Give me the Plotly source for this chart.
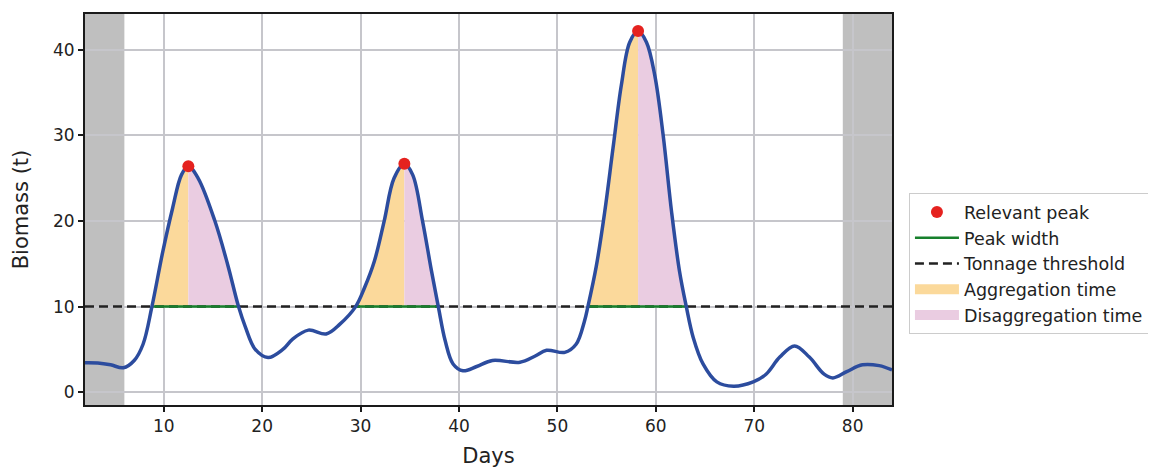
import plotly.graph_objects as go

# ---- data ----
days = [2.0, 3.3, 4.6, 5.9, 7.0, 7.9, 8.8, 9.9, 10.9, 11.8, 12.5, 13.5, 15.2, 16.5, 17.6,
        18.3, 19.3, 20.6, 22.1, 23.1, 24.7, 26.5, 27.9, 29.5, 30.4, 31.4, 32.4, 33.4, 34.45,
        35.3, 36.3, 37.2, 37.9, 38.6, 39.4, 40.4, 41.8, 43.4, 46.2, 47.7, 48.9,
        50.75, 51.9, 52.75, 53.1, 53.95, 54.8, 55.65, 56.5, 57.35, 58.2, 59.05, 59.9,
        60.75, 61.6, 62.4, 63.1, 63.8, 64.8, 66.2, 67.9, 69.9, 71.2, 72.6, 74.1, 75.6,
        77.1, 78.0, 79.4, 81.0, 82.7, 84.0]
biomass = [3.45, 3.42, 3.2, 2.85, 3.7, 5.6, 10.0, 16.4, 21.5, 25.4, 26.4, 25.0, 20.0, 14.9, 10.0,
           7.6, 5.0, 4.05, 5.0, 6.2, 7.25, 6.8, 7.95, 10.0, 12.2, 15.3, 20.0, 25.0, 26.7,
           25.4, 20.0, 14.2, 10.0, 6.0, 3.3, 2.5, 3.0, 3.7, 3.5, 4.2, 4.9,
           4.65, 5.6, 8.3, 10.0, 14.7, 21.0, 28.5, 35.9, 40.9, 42.2, 40.9, 37.0,
           30.0, 21.1, 14.2, 10.0, 6.4, 3.3, 1.2, 0.7, 1.2, 2.1, 4.1, 5.4, 4.1,
           2.1, 1.67, 2.4, 3.2, 3.1, 2.6]

peak_start = [8.8, 29.5, 53.1]     # threshold crossing before peak
peak_day = [12.5, 34.45, 58.2]
peak_value = [26.4, 26.7, 42.2]
peak_end = [17.6, 37.9, 63.1]      # threshold crossing after peak

threshold = 10
masked_periods = [(2, 6), (79, 84)]
x_ticks = [10, 20, 30, 40, 50, 60, 70, 80]
y_ticks = [0, 10, 20, 30, 40]

assert len(days) == len(biomass)

BLUE = "#2C4C9E"
ORANGE = "#FBD99B"
PINK = "#EACCE1"
GREEN = "#17802C"
RED = "#E5221F"

fig = go.Figure()


def segment(a, b):
    xs, ys = [], []
    for d, v in zip(days, biomass):
        if a - 1e-9 <= d <= b + 1e-9:
            xs.append(d)
            ys.append(v)
    return xs, ys


for i, (s, p, e) in enumerate(zip(peak_start, peak_day, peak_end)):
    for (a, b, col) in [(s, p, ORANGE), (p, e, PINK)]:
        xs, ys = segment(a, b)
        fig.add_trace(go.Scatter(x=[a, b], y=[threshold, threshold], mode="lines",
                                 line=dict(width=0), showlegend=False, hoverinfo="skip"))
        fig.add_trace(go.Scatter(x=xs, y=ys, mode="lines", line=dict(width=0, shape="spline"),
                                 fill="tonexty", fillcolor=col, showlegend=False))

# legend-only entries for the filled areas (wide swatches)
for col, name, rank in [(ORANGE, "Aggregation time", 4), (PINK, "Disaggregation time", 5)]:
    fig.add_trace(go.Scatter(x=[None], y=[None], mode="lines",
                             line=dict(width=14, color=col), name=name, legendrank=rank))

# threshold
fig.add_trace(go.Scatter(x=[days[0], days[-1]], y=[threshold, threshold], mode="lines",
                         line=dict(color="#222222", width=2.5, dash="9px,5px"),
                         name="Tonnage threshold", legendrank=3))

# peak widths
for i, (s, e) in enumerate(zip(peak_start, peak_end)):
    fig.add_trace(go.Scatter(x=[s, e], y=[threshold, threshold], mode="lines",
                             line=dict(color=GREEN, width=2.5), name="Peak width",
                             legendgroup="pw", showlegend=(i == 0), legendrank=2))

# biomass curve
fig.add_trace(go.Scatter(x=days, y=biomass, mode="lines",
                         line=dict(color=BLUE, width=3.5, shape="spline", smoothing=1.0),
                         showlegend=False))

# peaks
fig.add_trace(go.Scatter(x=peak_day, y=peak_value, mode="markers",
                         marker=dict(color=RED, size=12), name="Relevant peak", legendrank=1))

for a, b in masked_periods:
    fig.add_shape(type="rect", xref="x", yref="paper", x0=a, x1=b, y0=0, y1=1,
                  fillcolor="#BFBFBF", line=dict(width=0), layer="below")

axis_common = dict(showline=True, mirror=True, linecolor="#1a1a1a", linewidth=2,
                   ticks="outside", ticklen=5, tickwidth=1.5, tickcolor="#1a1a1a",
                   showgrid=True, gridcolor="#C6C6CB", gridwidth=1.5, zeroline=False,
                   tickfont=dict(size=17, color="#222222"))

fig.update_layout(
    width=1164, height=467,
    margin=dict(l=77, r=280, t=4, b=70),
    paper_bgcolor="white", plot_bgcolor="white",
    font=dict(family="DejaVu Sans", color="#222222"),
    xaxis=dict(range=[2, 84], tickvals=x_ticks,
               title=dict(text="Days", font=dict(size=21), standoff=13), **axis_common),
    yaxis=dict(range=[-1.5, 44.2], tickvals=y_ticks,
               title=dict(text="Biomass (t)", font=dict(size=21), standoff=19), **axis_common),
    legend=dict(x=1.021, y=0.542, xanchor="left", yanchor="top",
                bgcolor="white", bordercolor="#CCCCCC", borderwidth=1, itemwidth=44,
                font=dict(size=17.5, color="#222222"), traceorder="normal"),
    showlegend=True,
)

fig.write_html("out.html")
